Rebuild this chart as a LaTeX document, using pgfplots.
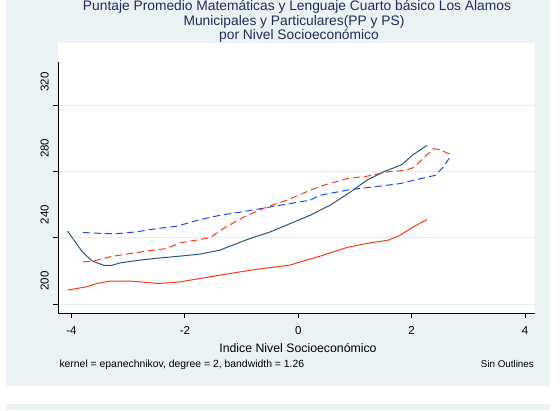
\documentclass[border=0pt]{standalone}
\usepackage{fontspec}
\setmainfont{Liberation Sans}
\usepackage{pgfplots}
\pgfplotsset{compat=1.18}

\definecolor{panel}{RGB}{234,242,243}
\definecolor{gridc}{RGB}{228,238,240}
\definecolor{titlec}{RGB}{30,45,95}
\definecolor{navyc}{RGB}{40,88,122}
\definecolor{redc}{RGB}{252,58,22}
\definecolor{bluec}{RGB}{30,75,235}

\begin{document}
\begin{tikzpicture}
% background panels (1pt = 1px of the 560x410 reference)
\clip (0pt,0pt) rectangle (560pt,-410pt);
\fill[white] (0pt,0pt) rectangle (560pt,-410pt);
\fill[panel] (6pt,0pt) rectangle (550pt,-386pt);
\fill[panel] (6pt,-404pt) rectangle (550pt,-410pt);
\fill[white] (58.3pt,-43pt) rectangle (535pt,-313pt);

% title
\begin{scope}[every node/.style={anchor=base, inner sep=0pt, text=titlec,
    font=\fontsize{13.8}{15}\selectfont}]
\node at (297pt,-10pt) {Puntaje Promedio Matemáticas y Lenguaje Cuarto básico Los Alamos};
\node at (294pt,-25.5pt) {Municipales y Particulares(PP y PS)};
\node at (299pt,-39.3pt) {por Nivel Socioeconómico};
\end{scope}

% note line
\node[anchor=base west, inner sep=0pt, font=\fontsize{10.4}{12}\selectfont] at (59.3pt,-367.5pt)
  {kernel = epanechnikov, degree = 2, bandwidth = 1.26};
\node[anchor=base east, inner sep=0pt, font=\fontsize{9.8}{11}\selectfont] at (534pt,-367.5pt)
  {Sin Outlines};

\begin{axis}[
    at={(58.3pt,-313pt)}, anchor=south west,
    scale only axis,
    width=476.2pt, height=251pt,
    xmin=-4.233, xmax=4.168,
    ymin=194.59, ymax=345.86,
    axis x line=bottom, axis y line=left,
    axis line style={-, black, line width=0.8pt},
    xtick={-4,-2,0,2,4},
    ytick={200,240,280,320},
    minor tick num=0,
    tick align=outside,
    major tick length=5pt,
    tick style={black, line width=0.8pt},
    ymajorgrids,
    major grid style={gridc, line width=0.8pt},
    /pgf/number format/assume math mode=true,
    ticklabel style={font=\fontsize{11.5}{13}\selectfont, inner sep=0pt},
    xticklabel style={anchor=north, yshift=-8pt},
    yticklabel style={xshift=-4.3pt, yshift=23pt, rotate=90, anchor=south},
    xlabel={Indice Nivel Socioeconómico},
    xlabel style={at={(axis description cs:0.5,0)}, anchor=base, yshift=-39.5pt,
      xshift=1.6pt, inner sep=0pt, font=\fontsize{12.3}{14}\selectfont},
    clip=false,
]
% navy solid
\addplot[navyc, line width=1pt] coordinates {
(-4.07,243.9) (-3.81,231.5) (-3.64,226.0) (-3.43,223.3) (-3.29,223.3)
(-3.14,224.8) (-2.79,226.5) (-2.43,227.8) (-2.08,228.9) (-1.73,230.1)
(-1.38,232.5) (-0.90,238.9) (-0.49,243.5) (-0.14,248.5) (0.21,253.5)
(0.56,259.5) (0.92,267.5) (1.21,274.6) (1.50,279.6) (1.83,284.0)
(2.01,289.6) (2.27,295.6)
};
% red solid
\addplot[redc, line width=1pt] coordinates {
(-4.07,208.4) (-3.73,210.4) (-3.55,212.4) (-3.32,213.8) (-2.96,213.8)
(-2.73,213.2) (-2.49,212.4) (-2.26,212.8) (-2.08,213.4) (-1.73,215.4)
(-1.38,217.4) (-1.02,219.4) (-0.67,221.2) (-0.14,223.5) (0.0,225.0)
(0.39,228.9) (0.86,234.1) (1.21,236.5) (1.59,238.5) (1.80,241.5)
(2.03,246.5) (2.27,250.9)
};
% blue dashed
\addplot[bluec, line width=1pt, dash pattern=on 7pt off 4pt] coordinates {
(-3.80,243.1) (-3.43,242.5) (-3.17,242.5) (-2.85,243.5) (-2.49,245.5)
(-2.14,246.9) (-1.73,250.9) (-1.38,253.5) (-0.90,256.1) (-0.49,258.5)
(-0.14,260.6) (0.21,262.6) (0.39,265.6) (0.92,269.0) (1.33,270.6)
(1.80,272.6) (2.09,275.0) (2.42,277.6) (2.56,282.6) (2.70,289.6)
};
% red dashed
\addplot[redc, line width=1pt, dash pattern=on 7pt off 4pt] coordinates {
(-3.80,225.4) (-3.61,225.9) (-3.32,228.5) (-3.02,230.1) (-2.67,231.9)
(-2.32,233.5) (-2.08,236.9) (-1.73,238.9) (-1.55,240.1) (-1.32,245.5)
(-0.96,252.5) (-0.55,258.5) (-0.20,262.6) (0.21,268.6) (0.45,271.6)
(0.86,275.6) (1.21,277.0) (1.56,279.6) (1.89,280.6) (2.03,282.2)
(2.18,287.0) (2.39,293.6) (2.50,293.0) (2.68,290.2)
};
\end{axis}
\end{tikzpicture}
\end{document}
